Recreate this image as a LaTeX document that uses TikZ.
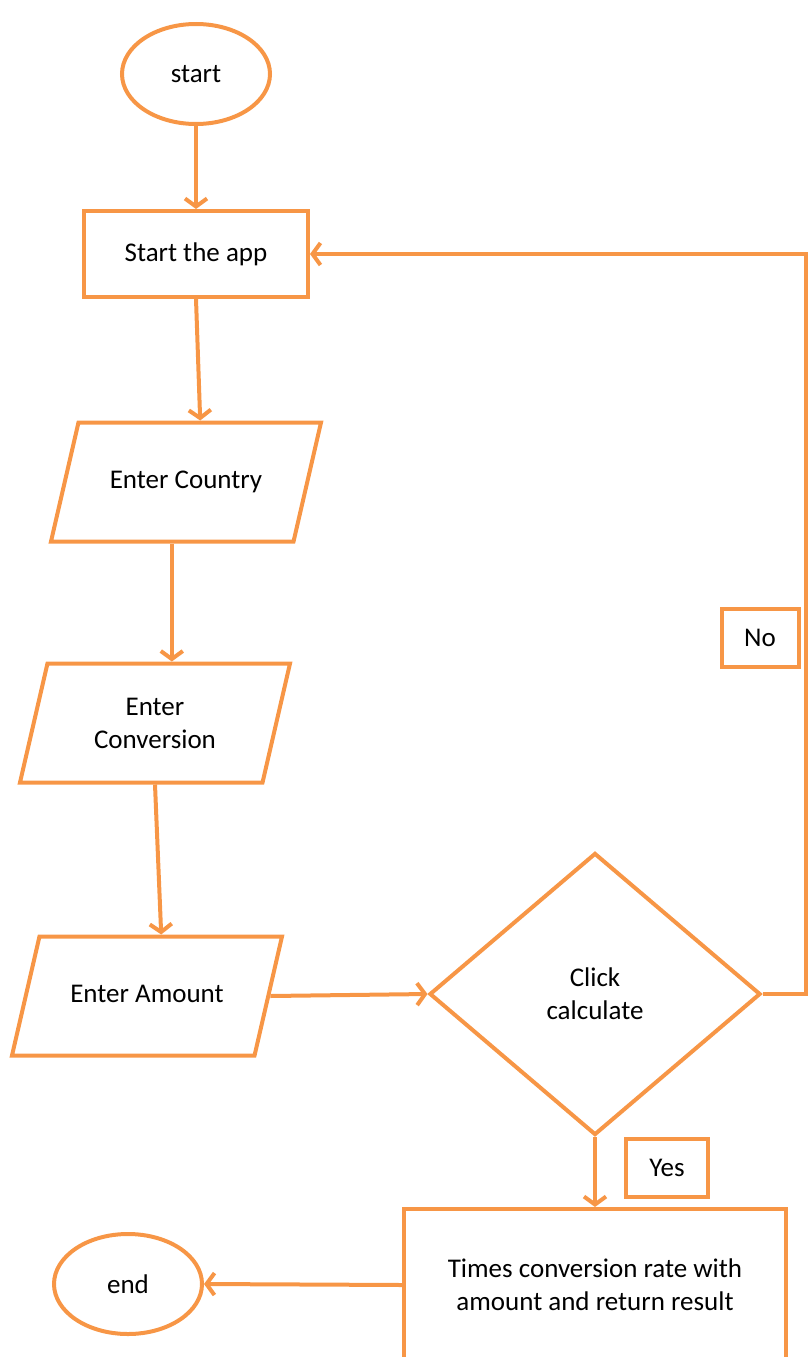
\documentclass[tikz,border=0pt]{standalone}
\usepackage{fontspec}
\setmainfont{Carlito}
\usetikzlibrary{shapes.geometric,arrows.meta,calc}
\definecolor{flow}{HTML}{F79646}
\begin{document}
\begin{tikzpicture}[x=1pt,y=-1pt,
  every node/.style={font=\fontsize{27}{33}\selectfont,align=center,line width=4pt,draw=flow,inner sep=0pt},
  term/.style={ellipse,minimum width=148pt,minimum height=100pt},
  proc/.style={rectangle,minimum width=224pt,minimum height=86pt},
  io/.style={trapezium,trapezium left angle=77,trapezium right angle=103,trapezium stretches body,minimum width=270pt,inner xsep=0pt},
  oneline/.style={text height=19pt,text depth=6pt,inner ysep=47pt},
  dec/.style={diamond,minimum width=331pt,minimum height=282pt},
  tag/.style={rectangle,minimum height=58pt},
  flowline/.style={draw=flow,line width=4pt,-{Straight Barb[length=8pt,width=22pt]}}]
  \useasboundingbox (0,0) rectangle (807,1357);
  \node[term] (start) at (196,74) {start};
  \node[proc] (app) at (196,254) {Start the app};
  \node[io,oneline] (country) at (186,482) {Enter Country};
  \node[io,text height=54pt,text depth=4pt,inner ysep=30.5pt] (conv) at (155,723) {Enter\\Conversion};
  \node[io,oneline] (amount) at (147,996) {Enter Amount};
  \node[dec] (calc) at (595,994) {Click\\calculate};
  \node[proc,minimum width=382pt,minimum height=152pt] (result) at (595,1285) {Times conversion rate with\\amount and return result};
  \node[term] (end) at (128,1284) {end};
  \node[tag,minimum width=77pt] (no) at (760,638) {No};
  \node[tag,minimum width=82pt] (yes) at (667,1168) {Yes};
  % mid points of the slanted boxes
  \coordinate (countrytop) at ($(country.top left corner)!0.5!(country.top right corner)$);
  \coordinate (countrybot) at ($(country.bottom left corner)!0.5!(country.bottom right corner)$);
  \coordinate (convtop) at ($(conv.top left corner)!0.5!(conv.top right corner)$);
  \coordinate (amounttop) at ($(amount.top left corner)!0.5!(amount.top right corner)$);
  \coordinate (turn1) at (806,994);
  \coordinate (turn2) at (806,254);
  \draw[flowline] (start) -- (app);
  \draw[flowline] (app.south) -- (countrytop);
  \draw[flowline] (countrybot) -- (countrybot |- convtop);
  \draw[flowline] (conv.center |- conv.south) -- (amounttop);
  \draw[flowline] (amount.east) -- (calc.west);
  \draw[flowline] (calc.east) -- (turn1) -- (turn2) -- (app.east);
  \draw[flowline] (calc.south) -- (result.north);
  \draw[flowline] (result.west) -- (end.east);
\end{tikzpicture}
\end{document}
